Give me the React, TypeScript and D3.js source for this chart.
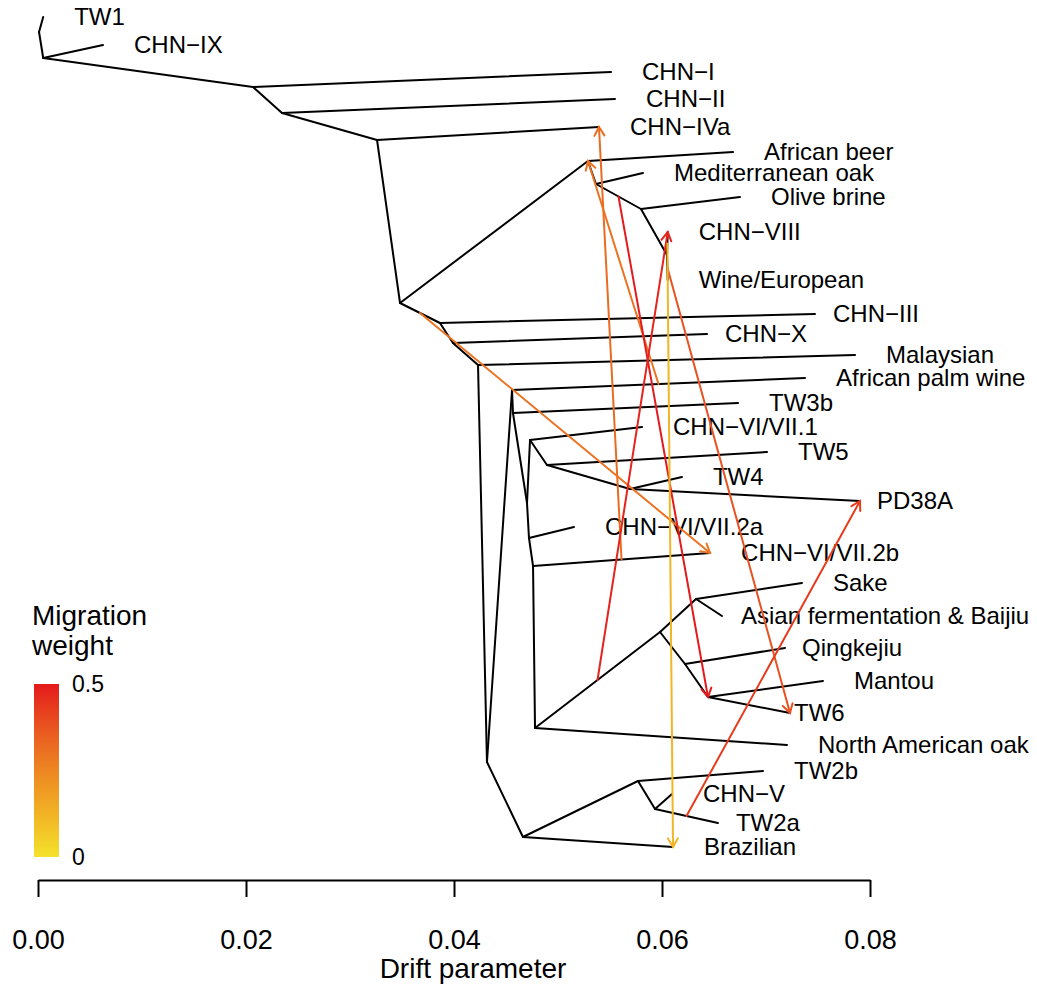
import React, { useEffect, useRef } from 'react';
import * as d3 from 'd3';

// tree: node id, parent, drift (x) and vertical position (0 = bottom, 1 = top)
const nodeIds = [
  'root', 'TW1', 'n1', 'CHN\u2212IX', 'n2', 'CHN\u2212I', 'n3', 'CHN\u2212II', 'n4', 'CHN\u2212IVa',
  'n5', 'n6', 'African beer', 'n6b', 'Mediterranean oak', 'n6c', 'Olive brine', 'n6d', 'CHN\u2212VIII', 'Wine/European',
  'n7', 'CHN\u2212III', 'n8', 'CHN\u2212X', 'n9', 'Malaysian', 'n10', 'n11', 'African palm wine', 'n13',
  'TW3b', 'm', 'n16', 'CHN\u2212VI/VII.1', 'n18', 'TW5', 'n19', 'TW4', 'PD38A', 'n17',
  'CHN\u2212VI/VII.2a', 'n15', 'CHN\u2212VI/VII.2b', 'n14', 'North American oak', 'n20', 'n21', 'Sake', 'Asian fermentation & Baijiu', 'n22',
  'Qingkejiu', 'n23', 'Mantou', 'TW6', 'n12', 'Brazilian', 'n24', 'TW2b', 'n25', 'CHN\u2212V',
  'TW2a',
];

const nodeParents = [
  null, 'root', 'root', 'n1', 'n1', 'n2', 'n2', 'n3', 'n3', 'n4',
  'n4', 'n5', 'n6', 'n6', 'n6b', 'n6b', 'n6c', 'n6c', 'n6d', 'n6d',
  'n5', 'n7', 'n7', 'n8', 'n8', 'n9', 'n9', 'n10', 'n11', 'n11',
  'n13', 'n13', 'm', 'n16', 'n16', 'n18', 'n18', 'n19', 'n19', 'm',
  'n17', 'n17', 'n15', 'n15', 'n14', 'n14', 'n20', 'n21', 'n21', 'n20',
  'n22', 'n22', 'n23', 'n23', 'n10', 'n12', 'n12', 'n24', 'n24', 'n25',
  'n25',
];

const nodeDrift = [
  0.0001, 0.0005, 0.0005, 0.00625, 0.02067, 0.0551, 0.02346, 0.05548, 0.0326, 0.05394,
  0.03481, 0.05288, 0.06683, 0.05365, 0.05817, 0.05798, 0.0675, 0.06048, 0.06055, 0.06055,
  0.03865, 0.07471, 0.0399, 0.06433, 0.04231, 0.07856, 0.04317, 0.04558, 0.07375, 0.04567,
  0.06731, 0.04702, 0.04731, 0.05808, 0.04894, 0.0701, 0.05692, 0.06192, 0.07904, 0.04721,
  0.05154, 0.0476, 0.06462, 0.04779, 0.07202, 0.05981, 0.06327, 0.07346, 0.06577, 0.06221,
  0.07183, 0.06442, 0.07548, 0.07231, 0.04663, 0.06106, 0.05769, 0.06971, 0.05933, 0.06096,
  0.06538,
];

const nodeY = [
  0.968, 0.983, 0.942, 0.955, 0.913, 0.928, 0.887, 0.901, 0.86, 0.873,
  0.697, 0.839, 0.848, 0.816, 0.827, 0.791, 0.803, 0.745, 0.768, 0.72,
  0.677, 0.686, 0.657, 0.666, 0.635, 0.645, 0.238, 0.61, 0.622, 0.587,
  0.597, 0.497, 0.56, 0.573, 0.535, 0.548, 0.511, 0.523, 0.499, 0.462,
  0.473, 0.434, 0.447, 0.272, 0.255, 0.368, 0.401, 0.417, 0.384, 0.336,
  0.352, 0.303, 0.319, 0.287, 0.163, 0.153, 0.219, 0.229, 0.191, 0.206,
  0.177,
];

// migration edges: start at the middle of the edge above migFrom, point at migTo
const migFrom = ['n7', 'CHN\u2212VI/VII.2b', 'African palm wine', 'n6c', 'n20', 'Wine/European', 'TW2a', 'CHN\u2212VIII'];
const migTo = ['CHN\u2212VI/VII.2b', 'CHN\u2212IVa', 'n6', 'n23', 'CHN\u2212VIII', 'TW6', 'PD38A', 'Brazilian'];
const migWeight = [0.3, 0.32, 0.3, 0.5, 0.48, 0.38, 0.43, 0.12];

const driftTicks = [0, 0.02, 0.04, 0.06, 0.08];
const weightTicks = [0, 0.5];

// gap between tip end and its label, where it is not the usual one
const labelGap: Record<string, number> = {
  'CHN\u2212III': 18, 'CHN\u2212X': 18, 'PD38A': 17, 'Asian fermentation & Baijiu': 19,
  'Qingkejiu': 17, 'TW2a': 18, 'TW6': 4,
};

const FONT = '"Liberation Sans", Arial, Helvetica, sans-serif';
const W = 1037, H = 986;

const x = d3.scaleLinear().domain([0, 0.08]).range([38, 870]);
const y = d3.scaleLinear().domain([0, 1]).range([1000, 0]);
const migColor = d3.scaleSequential(d3.interpolateRgbBasis(['#F4E22C', '#F0A322', '#EB6A22', '#E41A1C'])).domain([0, 0.5]);
const legendY = d3.scaleLinear().domain([0, 0.5]).range([857, 684]);

const idx = new Map(nodeIds.map((id, i) => [id, i]));
const pos = (id: string) => {
  const i = idx.get(id)!;
  return [x(nodeDrift[i]), y(nodeY[i])];
};
const isTip = (id: string) => !nodeParents.includes(id);

const arrowHead = (sx: number, sy: number, ex: number, ey: number, len = 10) => {
  const a = Math.atan2(ey - sy, ex - sx);
  const da = Math.PI / 6;
  const p1 = [ex - len * Math.cos(a - da), ey - len * Math.sin(a - da)];
  const p2 = [ex - len * Math.cos(a + da), ey - len * Math.sin(a + da)];
  return `M${p1[0]},${p1[1]}L${ex},${ey}L${p2[0]},${p2[1]}`;
};

const App = () => {
  const axisRef = useRef<SVGGElement>(null);

  useEffect(() => {
    const g = d3.select(axisRef.current);
    g.call(
      d3.axisBottom(x)
        .tickValues(driftTicks)
        .tickSize(17)
        .tickSizeOuter(0)
        .tickFormat(d3.format('.2f'))
    );
    g.attr('font-size', 27).attr('font-family', FONT);
    g.select('.domain').attr('stroke-width', 2);
    g.selectAll('.tick line').attr('stroke-width', 2);
    g.selectAll('.tick text').attr('y', 60).attr('dy', '0.35em');
  }, []);

  const gradStops = d3.range(0, 1.0001, 0.1);

  return (
    <svg width={W} height={H} style={{ position: 'absolute', left: 0, top: 0, background: '#fff' }} fontFamily={FONT}>
      <defs>
        <linearGradient id="migGrad" x1="0" y1="1" x2="0" y2="0">
          {gradStops.map(t => (
            <stop key={t} offset={t} stopColor={migColor(t * 0.5)} />
          ))}
        </linearGradient>
      </defs>

      {/* tree edges */}
      <g stroke="#000" strokeWidth={2} strokeLinecap="round" fill="none">
        {nodeIds.map((id, i) => {
          const p = nodeParents[i];
          if (!p) return null;
          const [x1, y1] = pos(p);
          const [x2, y2] = pos(id);
          return <line key={id} x1={x1} y1={y1} x2={x2} y2={y2} />;
        })}
      </g>

      {/* tip labels */}
      <g fontSize={24} fill="#000">
        {nodeIds.filter(isTip).map(id => {
          const [tx, ty] = pos(id);
          return (
            <text key={id} x={tx + (labelGap[id] ?? 31)} y={ty} dy="0.35em">{id}</text>
          );
        })}
      </g>

      {/* migration arrows */}
      <g fill="none" strokeWidth={2} strokeLinecap="round">
        {migFrom.map((from, i) => {
          const parent = nodeParents[idx.get(from)!]!;
          const [px, py] = pos(parent);
          const [cx, cy] = pos(from);
          const sx = (px + cx) / 2, sy = (py + cy) / 2;
          const [ex, ey] = pos(migTo[i]);
          const c = migColor(migWeight[i]);
          return (
            <g key={i} stroke={c}>
              <line x1={sx} y1={sy} x2={ex} y2={ey} />
              <path d={arrowHead(sx, sy, ex, ey)} />
            </g>
          );
        })}
      </g>

      {/* x axis */}
      <g ref={axisRef} transform="translate(0,880)" />
      <text x={473} y={968} dy="0.35em" textAnchor="middle" fontSize={28}>Drift parameter</text>

      {/* legend */}
      <g>
        <text x={32} y={625} fontSize={28}>Migration</text>
        <text x={32} y={655} fontSize={28}>weight</text>
        <rect x={34} y={legendY(0.5)} width={25} height={legendY(0) - legendY(0.5)} fill="url(#migGrad)" />
        {weightTicks.map(w => (
          <text key={w} x={72} y={legendY(w)} dy="0.35em" fontSize={23}>{w === 0 ? '0' : String(w)}</text>
        ))}
      </g>
    </svg>
  );
};

export default App;
